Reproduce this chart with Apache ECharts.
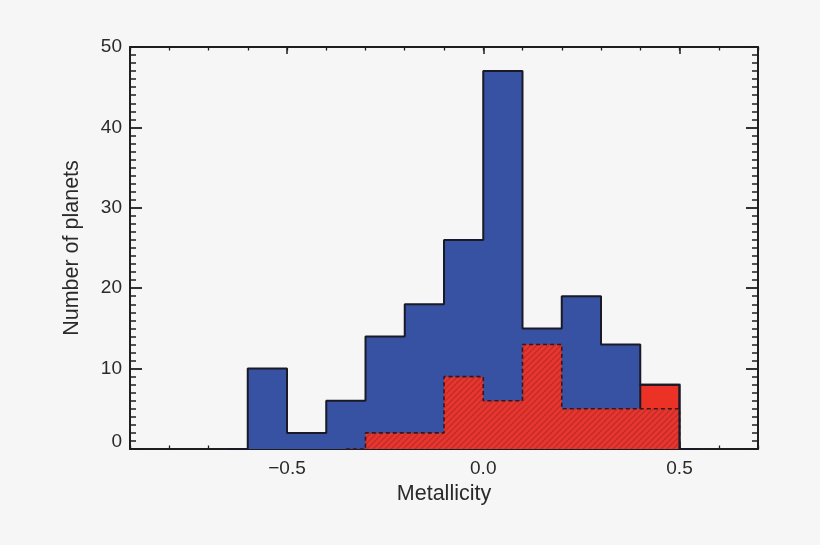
<!DOCTYPE html>
<html><head><meta charset="utf-8">
<script src="https://cdn.jsdelivr.net/npm/echarts@6/dist/echarts.min.js"></script>
<style>html,body{margin:0;padding:0;background:#f6f6f6}#c{width:820px;height:545px}</style>
</head><body><div id="c"></div>
<script>
// ---- data ----
const binWidth = 0.1;
const blueBinStarts = [-0.6, -0.5, -0.4, -0.3, -0.2, -0.1, 0.0, 0.1, 0.2, 0.3, 0.4];
const blueCounts    = [10, 2, 6, 14, 18, 26, 47, 15, 19, 13, 8];
const redSolidFrom  = 0.4; // bins of the first histogram from here on are shown in solid red
const redBinStarts  = [-0.3, -0.2, -0.1, 0.0, 0.1, 0.2, 0.3, 0.4];
const redCounts     = [2, 2, 9, 6, 13, 5, 5, 5];
const xTickValues   = [-0.5, 0.0, 0.5];
const xTickLabels   = ['\u22120.5', '0.0', '0.5'];
const yTickValues   = [0, 10, 20, 30, 40, 50];
const yTickLabels   = ['0', '10', '20', '30', '40', '50'];

// ---- helpers ----
function stepPoints(starts, counts, w) {
  const pts = [[starts[0] - w / 2, 0], [starts[0], 0]];
  for (let i = 0; i < starts.length; i++) {
    pts.push([starts[i], counts[i]], [starts[i] + w, counts[i]]);
  }
  const end = starts[starts.length - 1] + w;
  pts.push([end, 0], [end + w / 2, 0]);
  return pts;
}
const redTopData = blueBinStarts.map((s, i) => [s, blueCounts[i]]).filter(d => d[0] >= redSolidFrom - 1e-9);

const pc = document.createElement('canvas');
pc.width = 6; pc.height = 6;
const g = pc.getContext('2d');
g.fillStyle = '#e6362e'; g.fillRect(0, 0, 6, 6);
g.strokeStyle = '#c22b29'; g.lineWidth = 1.3;
g.beginPath();
g.moveTo(0, 6); g.lineTo(6, 0);
g.moveTo(-1, 1); g.lineTo(1, -1);
g.moveTo(5, 7); g.lineTo(7, 5);
g.stroke();

const FONT = 'Liberation Sans, Arial, Helvetica, sans-serif';
const TXT = '#2a2a2a';
const AX = '#1e1e1e';

function xLabel(v) {
  for (let i = 0; i < xTickValues.length; i++) if (Math.abs(v - xTickValues[i]) < 1e-6) return xTickLabels[i];
  return '';
}
function yLabel(v) {
  for (let i = 0; i < yTickValues.length; i++) if (Math.abs(v - yTickValues[i]) < 1e-6) return i === 0 ? '{z|' + yTickLabels[i] + '}' : yTickLabels[i];
  return '';
}

const xBase = { type: 'value', min: -0.9, max: 0.7, splitLine: { show: false }, gridIndex: 0 };
const chart = echarts.init(document.getElementById('c'));
chart.setOption({
  animation: false,
  backgroundColor: '#f6f6f6',
  grid: { left: 130, right: 62, top: 47, bottom: 96, containLabel: false },
  xAxis: [
    Object.assign({}, xBase, {
      position: 'bottom', minInterval: 0.5, maxInterval: 0.5, splitNumber: 3,
      axisLine: { show: true, onZero: false, lineStyle: { color: AX, width: 2 } },
      axisTick: { show: true, inside: true, length: 7, lineStyle: { color: AX, width: 1.5 } },
      axisLabel: { show: true, margin: 10, formatter: xLabel, color: TXT, fontFamily: FONT, fontSize: 19 },
      name: 'Metallicity', nameLocation: 'middle', nameGap: 34,
      nameTextStyle: { color: TXT, fontFamily: FONT, fontSize: 21.5 }
    }),
    Object.assign({}, xBase, {
      position: 'bottom', interval: 0.1,
      axisLine: { show: false, onZero: false },
      axisTick: { show: true, inside: true, length: 3.5, lineStyle: { color: AX, width: 1.3 } },
      axisLabel: { show: false }
    }),
    Object.assign({}, xBase, {
      position: 'top', minInterval: 0.5, maxInterval: 0.5, splitNumber: 3,
      axisLine: { show: true, onZero: false, lineStyle: { color: AX, width: 2 } },
      axisTick: { show: true, inside: true, length: 7, lineStyle: { color: AX, width: 1.5 } },
      axisLabel: { show: false }
    }),
    Object.assign({}, xBase, {
      position: 'top', interval: 0.1,
      axisLine: { show: false, onZero: false },
      axisTick: { show: true, inside: true, length: 3.5, lineStyle: { color: AX, width: 1.3 } },
      axisLabel: { show: false }
    })
  ],
  yAxis: [
    {
      type: 'value', min: 0, max: 50, interval: 10, position: 'left',
      splitLine: { show: false },
      axisLine: { show: true, onZero: false, lineStyle: { color: AX, width: 2 } },
      axisTick: { show: true, inside: true, length: 12, lineStyle: { color: AX, width: 1.8 } },
      minorTick: { show: true, splitNumber: 10, length: 6, lineStyle: { color: AX, width: 1.5 } },
      minorSplitLine: { show: false },
      axisLabel: {
        show: true, margin: 8, formatter: yLabel, color: TXT, fontFamily: FONT, fontSize: 19,
        rich: { z: { color: TXT, fontFamily: FONT, fontSize: 19, padding: [0, 0, 15, 0] } }
      },
      name: 'Number of planets', nameLocation: 'middle', nameGap: 47,
      nameTextStyle: { color: TXT, fontFamily: FONT, fontSize: 21.5 }
    },
    {
      type: 'value', min: 0, max: 50, interval: 10, position: 'right',
      splitLine: { show: false },
      axisLine: { show: true, onZero: false, lineStyle: { color: AX, width: 2 } },
      axisTick: { show: true, inside: true, length: 12, lineStyle: { color: AX, width: 1.8 } },
      minorTick: { show: true, splitNumber: 10, length: 6, lineStyle: { color: AX, width: 1.5 } },
      axisLabel: { show: false }
    }
  ],
  series: [
    {
      name: 'all', type: 'line', xAxisIndex: 0, yAxisIndex: 0,
      data: stepPoints(blueBinStarts, blueCounts, binWidth),
      showSymbol: false, symbol: 'none', clip: false,
      lineStyle: { width: 0, opacity: 0 },
      areaStyle: { color: '#3751a3', opacity: 1, origin: 'start' },
      z: 2
    },
    {
      name: 'redTop', type: 'custom', xAxisIndex: 0, yAxisIndex: 0,
      data: redTopData,
      renderItem: function (params, api) {
        const x0 = api.value(0), c = api.value(1);
        const p0 = api.coord([x0, c]);
        const p1 = api.coord([x0 + binWidth, 0]);
        return {
          type: 'rect',
          shape: { x: p0[0], y: p0[1], width: p1[0] - p0[0], height: p1[1] - p0[1] },
          style: { fill: '#ec3226', stroke: '#1e1a22', lineWidth: 2 }
        };
      },
      z: 3
    },
    {
      name: 'subset', type: 'line', xAxisIndex: 0, yAxisIndex: 0,
      data: stepPoints(redBinStarts, redCounts, binWidth),
      showSymbol: false, symbol: 'none', clip: false,
      lineStyle: { width: 1.6, color: '#3a1616', type: [4, 3] },
      areaStyle: { color: { image: pc, repeat: 'repeat' }, opacity: 1, origin: 'start' },
      z: 4
    },
    {
      name: 'allOutline', type: 'line', xAxisIndex: 0, yAxisIndex: 0,
      data: stepPoints(blueBinStarts, blueCounts, binWidth),
      showSymbol: false, symbol: 'none', clip: false,
      lineStyle: { width: 2, color: '#1a1a26' },
      z: 5
    }
  ]
});
</script>
</body></html>
